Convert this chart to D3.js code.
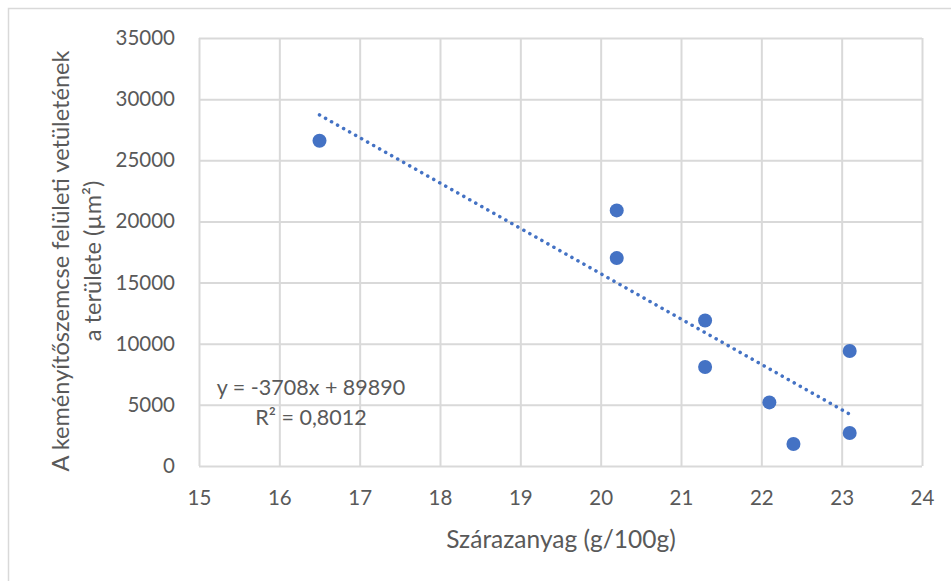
<!DOCTYPE html>
<html><head><meta charset="utf-8">
<script src="https://cdn.jsdelivr.net/npm/d3@7"></script>
<style>body{margin:0;background:#fff}svg{display:block}</style>
</head><body><svg id="c" width="951" height="581"></svg>
<script>
const xValues = [16.5, 20.2, 20.2, 21.3, 21.3, 22.1, 22.4, 23.1, 23.1];
const yValues = [26600, 20900, 17000, 11900, 8100, 5200, 1800, 9400, 2700];
const xTicks = [15, 16, 17, 18, 19, 20, 21, 22, 23, 24];
const yTicks = [0, 5000, 10000, 15000, 20000, 25000, 30000, 35000];
const slope = -3708, intercept = 89890;
const eqLabel = "y = -3708x + 89890";
const r2Label = "R² = 0,8012";
const xTitle = "Szárazanyag (g/100g)";
const yTitle1 = "A keményítőszemcse felületi vetületének";
const yTitle2 = "a területe (µm²)";

const svg = d3.select("#c");
const font = "Lato, 'Open Sans', sans-serif";
const L = 199, R = 922, T = 38, B = 466;
const x = d3.scaleLinear().domain([15, 24]).range([L, R]);
const y = d3.scaleLinear().domain([0, 35000]).range([B, T]);

svg.append("rect").attr("x", 8.5).attr("y", 8.5).attr("width", 960).attr("height", 620)
  .attr("fill", "#fff").attr("stroke", "#d9d9d9").attr("stroke-width", 1.5);

const gx = svg.append("g").attr("transform", `translate(0,${B})`)
  .call(d3.axisBottom(x).tickValues(xTicks).tickSize(-(B - T)).tickPadding(24).tickFormat(d3.format("d")));
const gy = svg.append("g").attr("transform", `translate(${L},0)`)
  .call(d3.axisLeft(y).tickValues(yTicks).tickSize(-(R - L)).tickPadding(24).tickFormat(d3.format("d")));
[gx, gy].forEach(g => {
  g.select(".domain").remove();
  g.selectAll(".tick line").attr("stroke", "#d9d9d9").attr("stroke-width", 2);
  g.selectAll(".tick text").attr("fill", "#595959").style("font-family", font).style("font-size", "20.5px");
});

const x0 = d3.min(xValues), x1 = d3.max(xValues);
svg.append("line")
  .attr("x1", x(x0)).attr("y1", y(slope * x0 + intercept))
  .attr("x2", x(x1)).attr("y2", y(slope * x1 + intercept))
  .attr("stroke", "#4472C4").attr("stroke-width", 3.5)
  .attr("stroke-linecap", "round").attr("stroke-dasharray", "0.1 6.8");

svg.append("g").selectAll("circle").data(xValues).join("circle")
  .attr("cx", (d) => x(d)).attr("cy", (d, i) => y(yValues[i])).attr("r", 7)
  .attr("fill", "#4472C4");

svg.append("text").attr("x", 311).attr("y", 395).attr("text-anchor", "middle")
  .attr("fill", "#595959").style("font-family", font).style("font-size", "21.5px").text(eqLabel);
svg.append("text").attr("x", 311).attr("y", 425).attr("text-anchor", "middle")
  .attr("fill", "#595959").style("font-family", font).style("font-size", "21.5px").text(r2Label);

svg.append("text").attr("x", 561).attr("y", 548).attr("text-anchor", "middle")
  .attr("fill", "#595959").style("font-family", font).style("font-size", "24.5px").text(xTitle);

const yt = svg.append("g").attr("transform", "translate(0,261) rotate(-90)");
yt.append("text").attr("x", 0).attr("y", 69).attr("text-anchor", "middle")
  .attr("fill", "#595959").style("font-family", font).style("font-size", "23.6px").text(yTitle1);
yt.append("text").attr("x", 0).attr("y", 101).attr("text-anchor", "middle")
  .attr("fill", "#595959").style("font-family", font).style("font-size", "23.6px").text(yTitle2);
</script></body></html>
